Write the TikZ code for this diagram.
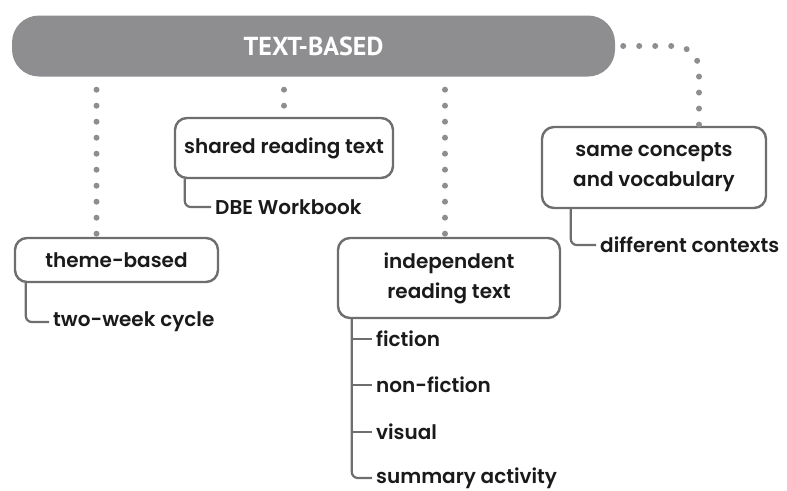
\documentclass[tikz,border=0pt]{standalone}
\usepackage{fontspec}
\setmainfont{Poppins}[BoldFont={Poppins SemiBold}]
\newfontfamily\titlefont{PT Sans}
\usetikzlibrary{positioning}

\definecolor{bargray}{HTML}{8E8E90}
\definecolor{linegray}{HTML}{6E6E6E}
\definecolor{inkblack}{HTML}{1A1A1A}

\tikzset{
  box/.style={draw=linegray,line width=2.4pt,rounded corners=12pt,align=center,
    inner sep=0pt,text=inkblack,font=\fontsize{20}{30}\selectfont\bfseries},
  leaf/.style={anchor=west,inner xsep=4pt,inner ysep=0pt,text=inkblack,
    font=\fontsize{20}{24}\selectfont\bfseries},
  dots/.style={draw=bargray,line width=6pt,line cap=round,dash pattern=on 0pt off 16pt,dash phase=3pt},
  branch/.style={draw=linegray,line width=2.2pt,rounded corners=6pt}
}

\begin{document}
\begin{tikzpicture}[x=1pt,y=-1pt]
  \useasboundingbox (0,0) rectangle (787,490);

  \node[fill=bargray,rounded corners=27pt,minimum width=603pt,minimum height=61pt,
    text=white,font=\titlefont\bfseries\fontsize{26}{26}\selectfont] (bar) at (313.5,46) {TEXT-BASED};

  \node[box,minimum width=218pt,minimum height=60pt] (shared) at (284,148) {shared reading text};
  \node[box,minimum width=203pt,minimum height=44pt] (theme) at (116.5,260) {theme-based};
  \node[box,minimum width=222pt,minimum height=80pt] (indep) at (449,278) {independent\\reading text};
  \node[box,minimum width=224pt,minimum height=81pt] (same) at (654,167.5) {same concepts\\and vocabulary};

  \node[leaf] (dbe) at (211,207) {DBE Workbook};
  \node[leaf] (twoweek) at (49,322) {two-week cycle};
  \node[leaf] (different) at (596,245) {different contexts};
  \node[leaf] (fiction) at (372,339) {fiction};
  \node[leaf] (nonfiction) at (372,385) {non-fiction};
  \node[leaf] (visual) at (372,432) {visual};
  \node[leaf] (summary) at (372,478) {summary activity};

  \coordinate (themedrop) at ([xshift=-20pt]theme.north);
  \coordinate (indepdrop) at ([xshift=-4pt]indep.north);
  \coordinate (samedrop) at ([xshift=45pt]same.north);
  \draw[dots] (themedrop |- bar.south) -- (themedrop);
  \draw[dots] (shared.north |- bar.south) -- (shared.north);
  \draw[dots] (indepdrop |- bar.south) -- (indepdrop);
  \draw[dots,dash phase=8pt,rounded corners=24pt] (bar.east) -| (samedrop);

  \draw[branch] ([xshift=11pt]shared.south west) |- (dbe.west);
  \draw[branch] ([xshift=12pt]theme.south west) |- (twoweek.west);
  \draw[branch] ([xshift=30pt]same.south west) |- (different.west);

  \coordinate (trunk) at ([xshift=15pt]indep.south west);
  \draw[branch] (trunk) |- (summary.west);
  \draw[branch] (trunk |- fiction.west) -- (fiction.west);
  \draw[branch] (trunk |- nonfiction.west) -- (nonfiction.west);
  \draw[branch] (trunk |- visual.west) -- (visual.west);
\end{tikzpicture}
\end{document}
